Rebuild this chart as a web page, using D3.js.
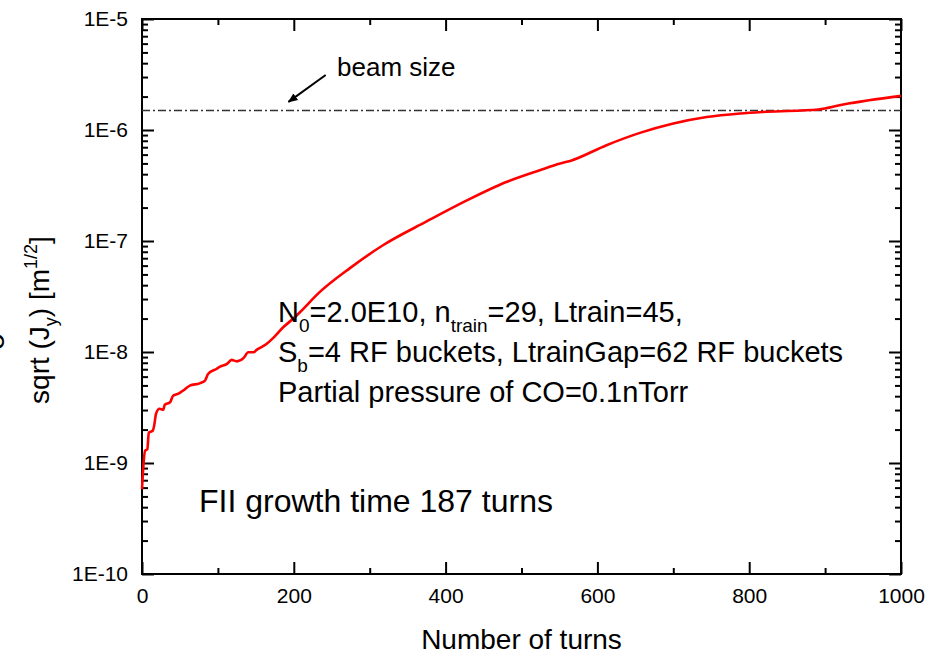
<!DOCTYPE html>
<html>
<head>
<meta charset="utf-8">
<script src="https://cdn.jsdelivr.net/npm/d3@7"></script>
<style>
  body { margin: 0; background: #fff; }
  text { font-family: "Liberation Sans", Arial, sans-serif; fill: #000; }
</style>
</head>
<body>
<svg id="chart"></svg>
<script>
// turns vs sqrt(J_y)
const turns = [0, 2, 4, 7, 9, 14, 16, 18.5, 23, 28, 30, 37, 41, 48, 54, 63, 76, 83, 87, 98,
  103, 112, 118, 125, 134, 140, 147, 151, 164, 173, 186, 199, 208, 234, 274, 318, 375, 428,
  480, 524, 551, 564, 612, 656, 700, 744, 788, 823, 891, 924, 1000];
const amplitude = [5.8e-10, 9.8e-10, 1.29e-9, 1.33e-9, 1.88e-9, 1.95e-9, 2.17e-9, 2.78e-9,
  3.08e-9, 3.02e-9, 3.35e-9, 3.52e-9, 4.04e-9, 4.21e-9, 4.49e-9, 4.98e-9, 5.22e-9, 5.52e-9,
  6.34e-9, 7.03e-9, 7.38e-9, 7.81e-9, 8.49e-9, 8.24e-9, 8.85e-9, 9.94e-9, 9.94e-9, 1.045e-8,
  1.18e-8, 1.34e-8, 1.67e-8, 1.99e-8, 2.28e-8, 3.46e-8, 5.7e-8, 9.2e-8, 1.5e-7, 2.32e-7,
  3.40e-7, 4.34e-7, 4.99e-7, 5.26e-7, 7.30e-7, 9.42e-7, 1.145e-6, 1.31e-6, 1.41e-6, 1.46e-6,
  1.53e-6, 1.70e-6, 2.03e-6];
const beamSize = 1.5e-6;

const xTicks = [0, 200, 400, 600, 800, 1000];
const xMinorTicks = [100, 300, 500, 700, 900];
const yTicks = [1e-10, 1e-9, 1e-8, 1e-7, 1e-6, 1e-5];
const yTickLabels = ['1E-10', '1E-9', '1E-8', '1E-7', '1E-6', '1E-5'];

const width = 935;
const height = 655;
const margin = { top: 19, right: 34, bottom: 81, left: 142 };

const svg = d3.select('#chart').attr('width', width).attr('height', height);

const x = d3.scaleLinear().domain([0, 1000]).range([margin.left, width - margin.right]);
const y = d3.scaleLog().domain([1e-10, 1e-5]).range([height - margin.bottom, margin.top]);

const yMinor = [];
yTicks.slice(0, -1).forEach((d) => {
  for (let k = 2; k <= 9; k++) yMinor.push(d * k);
});

const plotL = x(0), plotR = x(1000), plotT = y(1e-5), plotB = y(1e-10);

// ticks, all pointing into the plot
function addAxis(axis, tx, ty, labels) {
  const g = svg.append('g').attr('transform', `translate(${tx},${ty})`).call(axis);
  g.select('.domain').remove();
  g.selectAll('line').attr('stroke', '#000').attr('stroke-width', 2);
  g.selectAll('text').style('font-size', '21px').attr('fill', '#000');
  if (!labels) g.selectAll('text').remove();
  return g;
}

const yFmt = (d) => yTickLabels[yTicks.indexOf(d)];
addAxis(d3.axisLeft(y).tickValues(yTicks).tickFormat(yFmt).tickSizeInner(-12).tickSizeOuter(0).tickPadding(14), plotL, 0, true);
addAxis(d3.axisLeft(y).tickValues(yMinor).tickSizeInner(-6).tickSizeOuter(0), plotL, 0, false);
addAxis(d3.axisRight(y).tickValues(yTicks).tickSizeInner(-12).tickSizeOuter(0), plotR, 0, false);
addAxis(d3.axisRight(y).tickValues(yMinor).tickSizeInner(-6).tickSizeOuter(0), plotR, 0, false);

addAxis(d3.axisBottom(x).tickValues(xTicks).tickFormat(d3.format('d')).tickSizeInner(-12).tickSizeOuter(0).tickPadding(14), 0, plotB, true);
addAxis(d3.axisBottom(x).tickValues(xMinorTicks).tickSizeInner(-6).tickSizeOuter(0), 0, plotB, false);
addAxis(d3.axisTop(x).tickValues(xTicks).tickSizeInner(-12).tickSizeOuter(0), 0, plotT, false);
addAxis(d3.axisTop(x).tickValues(xMinorTicks).tickSizeInner(-6).tickSizeOuter(0), 0, plotT, false);

// frame
svg.append('rect')
  .attr('x', plotL).attr('y', plotT)
  .attr('width', plotR - plotL).attr('height', plotB - plotT)
  .attr('fill', 'none').attr('stroke', '#000').attr('stroke-width', 2);

// beam size reference
svg.append('line')
  .attr('x1', plotL).attr('x2', plotR)
  .attr('y1', y(beamSize)).attr('y2', y(beamSize))
  .attr('stroke', '#333').attr('stroke-width', 1.5)
  .attr('stroke-dasharray', '8,3,2,3');

const line = d3.line()
  .x((d, i) => x(turns[i]))
  .y((d) => y(d))
  .curve(d3.curveMonotoneX);

svg.append('path')
  .datum(amplitude)
  .attr('fill', 'none')
  .attr('stroke', '#ff0000')
  .attr('stroke-width', 2.6)
  .attr('stroke-linejoin', 'round')
  .attr('d', line);

// arrow + label
svg.append('defs').append('marker')
  .attr('id', 'head')
  .attr('viewBox', '0 -5 10 10')
  .attr('refX', 9).attr('refY', 0)
  .attr('markerWidth', 5).attr('markerHeight', 5)
  .attr('orient', 'auto')
  .append('path').attr('d', 'M0,-4L10,0L0,4Z').attr('fill', '#000');

svg.append('line')
  .attr('x1', x(242)).attr('y1', y(3.13e-6))
  .attr('x2', x(193)).attr('y2', y(1.79e-6))
  .attr('stroke', '#000').attr('stroke-width', 2)
  .attr('marker-end', 'url(#head)');

svg.append('text')
  .attr('x', x(257)).attr('y', 76)
  .style('font-size', '26px')
  .text('beam size');

// parameter block
const info = svg.append('text').attr('x', 278).attr('y', 322).style('font-size', '29px');
info.append('tspan').text('N');
info.append('tspan').attr('dy', 10).style('font-size', '19px').text('0');
info.append('tspan').attr('dy', -10).text('=2.0E10, n');
info.append('tspan').attr('dy', 10).style('font-size', '19px').text('train');
info.append('tspan').attr('dy', -10).text('=29, Ltrain=45,');

const info2 = svg.append('text').attr('x', 278).attr('y', 362).style('font-size', '29px');
info2.append('tspan').text('S');
info2.append('tspan').attr('dy', 10).style('font-size', '19px').text('b');
info2.append('tspan').attr('dy', -10).text('=4 RF buckets, LtrainGap=62 RF buckets');

svg.append('text').attr('x', 278).attr('y', 402).style('font-size', '29px')
  .text('Partial pressure of CO=0.1nTorr');

svg.append('text').attr('x', 199).attr('y', 512).style('font-size', '32px')
  .text('FII growth time 187 turns');

// axis titles
svg.append('text')
  .attr('x', (plotL + plotR) / 2).attr('y', 649)
  .attr('text-anchor', 'middle')
  .style('font-size', '28px')
  .text('Number of turns');

const yTitle = svg.append('text')
  .attr('transform', 'translate(49,320) rotate(-90)')
  .attr('text-anchor', 'middle')
  .style('font-size', '28px');
yTitle.append('tspan').text('sqrt (J');
yTitle.append('tspan').attr('dy', 8).style('font-size', '18px').text('y');
yTitle.append('tspan').attr('dy', -8).text(') [m');
yTitle.append('tspan').attr('dy', -12).style('font-size', '18px').text('1/2');
yTitle.append('tspan').attr('dy', 12).text(']');

// partly hidden glyph at the left edge, as in the source figure
svg.append('text')
  .attr('transform', 'translate(4,341) rotate(-90)')
  .attr('text-anchor', 'middle')
  .style('font-size', '30px')
  .text('σ');
</script>
</body>
</html>
